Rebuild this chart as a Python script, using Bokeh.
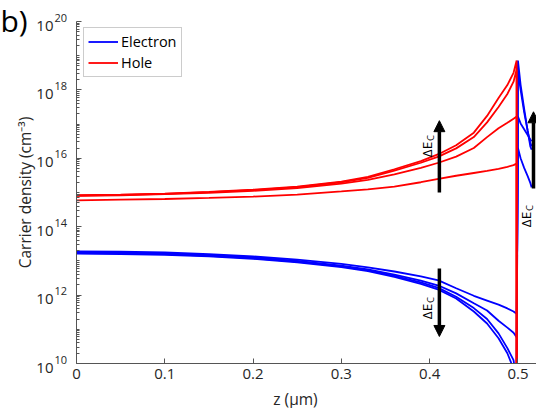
import math
from bokeh.plotting import figure
from bokeh.models import (Range1d, FixedTicker, Legend, LegendItem, Label,
                          Arrow, NormalHead)
from bokeh.embed import file_html
from bokeh.resources import INLINE

FONT = "Open Sans"
TICK_COLOR = "#262626"
AXIS_COLOR = "#555555"

# ---- data ---------------------------------------------------------------
# position across the absorber (µm), left of the hetero-interface
z_left = [0, 0.05, 0.1, 0.15, 0.2, 0.25, 0.3, 0.33, 0.36, 0.39, 0.41,
          0.43, 0.45, 0.465, 0.478, 0.488, 0.495, 0.4985]
# position just right of the interface (µm)
z_right = [0.5, 0.503, 0.507, 0.511, 0.514, 0.5155]

# log10 of hole density (cm^-3), one list per conduction band offset
hole_1 = [14.92, 14.94, 14.97, 15.02, 15.08, 15.17, 15.32, 15.46, 15.68, 15.92,
          16.12, 16.38, 16.75, 17.24, 17.76, 18.14, 18.50, 18.86]
hole_2 = [14.91, 14.93, 14.96, 15.01, 15.07, 15.16, 15.30, 15.43, 15.64, 15.87,
          16.05, 16.29, 16.62, 17.05, 17.50, 17.88, 18.24, 18.60]
hole_3 = [14.90, 14.92, 14.95, 14.99, 15.05, 15.13, 15.26, 15.37, 15.53, 15.72,
          15.87, 16.05, 16.30, 16.62, 16.88, 17.04, 17.16, 17.22]
hole_4 = [14.77, 14.79, 14.81, 14.84, 14.88, 14.94, 15.03, 15.09, 15.17, 15.30,
          15.40, 15.49, 15.57, 15.63, 15.69, 15.75, 15.80, 15.85]
hole_after = 6.0  # log10 hole density beyond the interface

# log10 of electron density (cm^-3), left of the interface
elec_1 = [13.28, 13.27, 13.25, 13.20, 13.13, 13.04, 12.91, 12.81, 12.69, 12.55,
          12.43, 12.20, 11.98, 11.84, 11.72, 11.61, 11.52, 11.45]
elec_2 = [13.25, 13.24, 13.22, 13.17, 13.10, 13.00, 12.86, 12.75, 12.60, 12.42,
          12.28, 12.05, 11.76, 11.55, 11.25, 11.05, 10.90, 10.77]
elec_3 = [13.23, 13.22, 13.20, 13.15, 13.08, 12.98, 12.84, 12.72, 12.56, 12.37,
          12.21, 11.95, 11.62, 11.30, 10.88, 10.45, 10.10, 9.50]
elec_4 = [13.21, 13.20, 13.18, 13.13, 13.06, 12.96, 12.82, 12.70, 12.53, 12.33,
          12.16, 11.90, 11.52, 11.17, 10.74, 10.30, 9.85, 9.30]
# log10 of electron density right of the interface
elec_1_right = [16.30, 16.00, 15.72, 15.48, 15.28, 15.15]
elec_2_right = [17.22, 17.02, 16.85, 16.68, 16.55, 16.50]
elec_3_right = [18.55, 18.00, 17.35, 16.80, 16.45, 16.35]
elec_4_right = [18.86, 18.15, 17.45, 16.80, 16.35, 16.25]

x_ticks = [0.0, 0.1, 0.2, 0.3, 0.4, 0.5]
x_tick_labels = ["0", "0.1", "0.2", "0.3", "0.4", "0.5"]
y_exponents = [10, 12, 14, 16, 18, 20]

# ---- geometry: the frame fills the canvas, axes sit at fixed locations ----
W, H = 536, 408
AX_L, AX_R, AX_T, AX_B = 76, 536, 21, 363   # axes box in canvas pixels
X_MAX = 0.521
Y_LO, Y_HI = 10.0, 20.0


def fx(px):
    """horizontal canvas pixel -> data x"""
    return (px - AX_L) / (AX_R - AX_L) * X_MAX


def fy(py):
    """vertical canvas pixel -> data y (log axis)"""
    return 10.0 ** (Y_LO + (AX_B - py) / (AX_B - AX_T) * (Y_HI - Y_LO))


def ypix(exponent):
    return AX_B - (exponent - Y_LO) / (Y_HI - Y_LO) * (AX_B - AX_T)


p = figure(width=W, height=H, x_range=Range1d(fx(0), fx(W)),
           y_range=Range1d(fy(H), fy(0)), y_axis_type="log",
           output_backend="svg", toolbar_location=None,
           min_border_left=0, min_border_right=0,
           min_border_top=0, min_border_bottom=0)
p.outline_line_color = None
p.xgrid.visible = False
p.ygrid.visible = False
p.background_fill_color = "white"
p.border_fill_color = "white"

# ---- curves ---------------------------------------------------------------
blue_lines = []
for left, right in [(elec_1, elec_1_right), (elec_2, elec_2_right),
                    (elec_3, elec_3_right), (elec_4, elec_4_right)]:
    xs = z_left + z_right
    ys = [10.0 ** v for v in left + right]
    blue_lines.append(p.line(xs, ys, line_color="#0000ff", line_width=1.8))

red_lines = []
for h in [hole_1, hole_2, hole_3, hole_4]:
    xs = z_left + [z_left[-1]]
    ys = [10.0 ** v for v in h + [hole_after]]
    red_lines.append(p.line(xs, ys, line_color="#ff0000", line_width=1.8))

# clip everything below the lower y limit (white band under the x axis)
p.quad(left=fx(-5), right=fx(W + 5), bottom=fy(H + 20), top=10.0 ** Y_LO,
       fill_color="white", line_color=None)

# ---- axes -------------------------------------------------------------------
xa = p.xaxis[0]
xa.fixed_location = 10.0 ** Y_LO
xa.bounds = (0, X_MAX)
xa.ticker = FixedTicker(ticks=x_ticks, minor_ticks=[])
xa.major_label_overrides = {t: s for t, s in zip(x_ticks, x_tick_labels)}
xa.major_tick_in = 5
xa.major_tick_out = 0
xa.minor_tick_in = 0
xa.minor_tick_out = 0
xa.major_label_standoff = 5
xa.major_label_text_font = FONT
xa.major_label_text_font_size = "15px"
xa.major_label_text_color = TICK_COLOR
xa.axis_line_color = AXIS_COLOR
xa.major_tick_line_color = AXIS_COLOR

ya = p.yaxis[0]
y_major = [10.0 ** e for e in y_exponents]
minor = []
for n in range(int(Y_LO), int(Y_HI)):
    for k in range(1, 10):
        if k == 1 and n in y_exponents:
            continue
        minor.append(k * 10.0 ** n)
ya.fixed_location = 0
ya.bounds = (10.0 ** Y_LO, 10.0 ** Y_HI)
ya.ticker = FixedTicker(ticks=y_major, minor_ticks=minor)
ya.major_label_overrides = {t: "" for t in y_major}
ya.major_tick_in = 5
ya.major_tick_out = 0
ya.minor_tick_in = 3
ya.minor_tick_out = 0
ya.axis_line_color = AXIS_COLOR
ya.major_tick_line_color = AXIS_COLOR
ya.minor_tick_line_color = AXIS_COLOR

# y tick labels: 10 with a raised exponent
for e in y_exponents:
    ty = ypix(e)
    p.add_layout(Label(x=fx(53), y=fy(ty + 4), text="10", text_align="right",
                       text_baseline="middle", text_font=FONT,
                       text_font_size="15px", text_color=TICK_COLOR))
    p.add_layout(Label(x=fx(54), y=fy(ty - 4), text=str(e), text_align="left",
                       text_baseline="middle", text_font=FONT,
                       text_font_size="11px", text_color=TICK_COLOR))

# axis titles
p.add_layout(Label(x=fx(295), y=fy(398), text="z (\u03bcm)", text_align="center",
                   text_baseline="middle", text_font=FONT,
                   text_font_size="15.5px", text_color=TICK_COLOR))
p.add_layout(Label(x=fx(24), y=fy(192), text="Carrier density (cm\u207b\u00b3)",
                   angle=math.pi / 2, text_align="center", text_baseline="middle",
                   text_font=FONT, text_font_size="15.5px", text_color=TICK_COLOR))

# panel letter
p.add_layout(Label(x=fx(0), y=fy(20), text="b)", text_align="left",
                   text_baseline="middle", text_font=FONT, text_font_size="30px",
                   text_color="black"))

# ---- band offset arrows ------------------------------------------------------
arrows = [  # (x, from, to)  in data units
    (0.411, 10.0 ** 15.0, 10.0 ** 17.1),
    (0.411, 10.0 ** 12.78, 10.0 ** 10.79),
    (0.5176, 10.0 ** 15.12, 10.0 ** 17.36),
]
for ax_, y0, y1 in arrows:
    p.add_layout(Arrow(x_start=ax_, y_start=y0, x_end=ax_, y_end=y1,
                       line_width=3.5, line_color="black",
                       end=NormalHead(size=11, fill_color="black",
                                      line_color="black", line_width=1)))


def delta_label(cx, cy):
    p.add_layout(Label(x=fx(cx), y=fy(cy), text="\u0394E", angle=math.pi / 2,
                       text_align="center", text_baseline="middle",
                       text_font=FONT, text_font_size="13.5px", text_color="black"))
    p.add_layout(Label(x=fx(cx + 4), y=fy(cy - 11.5), text="C", angle=math.pi / 2,
                       text_align="center", text_baseline="middle",
                       text_font=FONT, text_font_size="9.5px", text_color="black"))


delta_label(426, 149)
delta_label(426, 311)
delta_label(525, 219)

# ---- legend ---------------------------------------------------------------
legend = Legend(items=[LegendItem(label="Electron", renderers=[blue_lines[0]]),
                       LegendItem(label="Hole", renderers=[red_lines[0]])],
                location=(83, H - 29 - 48), margin=0, padding=4, spacing=2,
                glyph_width=30, glyph_height=17, label_height=17,
                label_standoff=3, label_text_font=FONT,
                label_text_font_size="14.5px", label_text_color="black",
                border_line_color="#9a9a9a", border_line_width=1,
                background_fill_color="white", background_fill_alpha=1)
p.add_layout(legend)

open("out.html", "w").write(file_html(p, INLINE))
